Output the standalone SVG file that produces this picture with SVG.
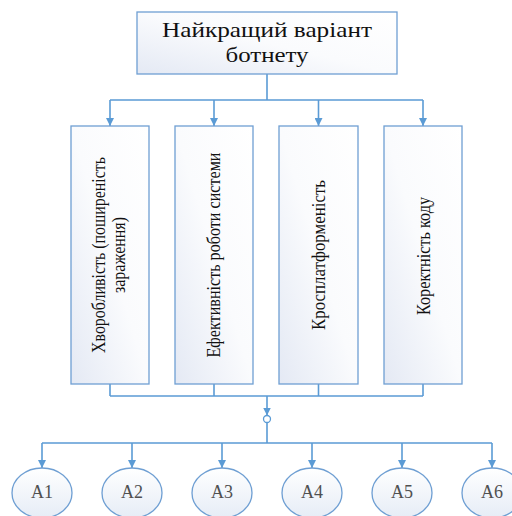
<svg xmlns="http://www.w3.org/2000/svg" width="512" height="516" viewBox="0 0 512 516">
  <defs>
    <linearGradient id="boxFill" x1="1" y1="0" x2="0" y2="1">
      <stop offset="0" stop-color="#ffffff"/>
      <stop offset="0.5" stop-color="#fafbfd"/>
      <stop offset="1" stop-color="#e4e9f4"/>
    </linearGradient>
    <linearGradient id="ovalFill" x1="0" y1="0" x2="0" y2="1">
      <stop offset="0" stop-color="#ffffff"/>
      <stop offset="1" stop-color="#e6ecf6"/>
    </linearGradient>
    <marker id="arrow" viewBox="0 0 10 10" refX="10" refY="5" markerWidth="8" markerHeight="8" markerUnits="userSpaceOnUse" orient="auto">
      <path d="M0,0 L10,5 L0,10 Z" fill="#5b9bd5"/>
    </marker>
    <style>
      .box { fill: url(#boxFill); stroke: #6f9fd3; stroke-width: 1.3; }
      .oval { fill: url(#ovalFill); stroke: #6f9fd3; stroke-width: 1.3; }
      .wire { fill: none; stroke: #5b9bd5; stroke-width: 1.6; }
      .arr { marker-end: url(#arrow); }
      text { font-family: "Liberation Serif", "Times New Roman", "DejaVu Serif", serif; }
      .title { font-size: 21px; fill: #111; text-anchor: middle; }
      .vlab { font-size: 19px; fill: #111; text-anchor: middle; }
      .alab { font-size: 18px; fill: #505050; text-anchor: middle; }
    </style>
  </defs>

  <!-- connectors -->
  <g id="connectors">
    <path class="wire" d="M267,74 V100 M110,100 H423"/>
    <path class="wire arr" d="M110,100 V126"/>
    <path class="wire arr" d="M214,100 V126"/>
    <path class="wire arr" d="M318.5,100 V126"/>
    <path class="wire arr" d="M423,100 V126"/>
    <path class="wire" d="M110,384 V396 M214,384 V396 M318.5,384 V396 M423,384 V396 M110,396 H423"/>
    <path class="wire arr" d="M267,396 V415.5"/>
    <circle cx="267" cy="419" r="3.5" fill="#ffffff" stroke="#5b9bd5" stroke-width="1.3"/>
    <path class="wire" d="M267,422.5 V443 M42,443 H492"/>
    <path class="wire arr" d="M42,443 V468"/>
    <path class="wire arr" d="M132,443 V468"/>
    <path class="wire arr" d="M222,443 V468"/>
    <path class="wire arr" d="M312,443 V468"/>
    <path class="wire arr" d="M402,443 V468"/>
    <path class="wire arr" d="M492,443 V468"/>
  </g>

  <!-- goal -->
  <g id="goal">
    <rect class="box" x="137" y="12" width="260" height="62"/>
    <text class="title" x="267" y="37" textLength="210" lengthAdjust="spacingAndGlyphs">Найкращий варіант</text>
    <text class="title" x="267" y="62" textLength="83" lengthAdjust="spacingAndGlyphs">ботнету</text>
  </g>

  <!-- criteria -->
  <g id="c1">
    <rect class="box" x="71" y="126" width="78" height="258"/>
    <text class="vlab" transform="translate(104.5,255) rotate(-90)" textLength="196" lengthAdjust="spacingAndGlyphs">Хворобливість (поширеність</text>
    <text class="vlab" transform="translate(125,255) rotate(-90)" textLength="76" lengthAdjust="spacingAndGlyphs">зараження)</text>
  </g>
  <g id="c2">
    <rect class="box" x="175" y="126" width="78" height="258"/>
    <text class="vlab" transform="translate(220,255) rotate(-90)" textLength="205" lengthAdjust="spacingAndGlyphs">Ефективність роботи системи</text>
  </g>
  <g id="c3">
    <rect class="box" x="279" y="126" width="79" height="258"/>
    <text class="vlab" transform="translate(325,255) rotate(-90)" textLength="150" lengthAdjust="spacingAndGlyphs">Кросплатформеність</text>
  </g>
  <g id="c4">
    <rect class="box" x="384" y="126" width="78" height="258"/>
    <text class="vlab" transform="translate(429.5,256) rotate(-90)" textLength="118" lengthAdjust="spacingAndGlyphs">Коректність коду</text>
  </g>

  <!-- alternatives -->
  <g id="a1"><ellipse class="oval" cx="42" cy="493" rx="30" ry="25"/><text class="alab" x="42" y="498">A1</text></g>
  <g id="a2"><ellipse class="oval" cx="132" cy="493" rx="30" ry="25"/><text class="alab" x="132" y="498">A2</text></g>
  <g id="a3"><ellipse class="oval" cx="222" cy="493" rx="30" ry="25"/><text class="alab" x="222" y="498">A3</text></g>
  <g id="a4"><ellipse class="oval" cx="312" cy="493" rx="30" ry="25"/><text class="alab" x="312" y="498">A4</text></g>
  <g id="a5"><ellipse class="oval" cx="402" cy="493" rx="30" ry="25"/><text class="alab" x="402" y="498">A5</text></g>
  <g id="a6"><ellipse class="oval" cx="492" cy="493" rx="30" ry="25"/><text class="alab" x="492" y="498">A6</text></g>
</svg>
